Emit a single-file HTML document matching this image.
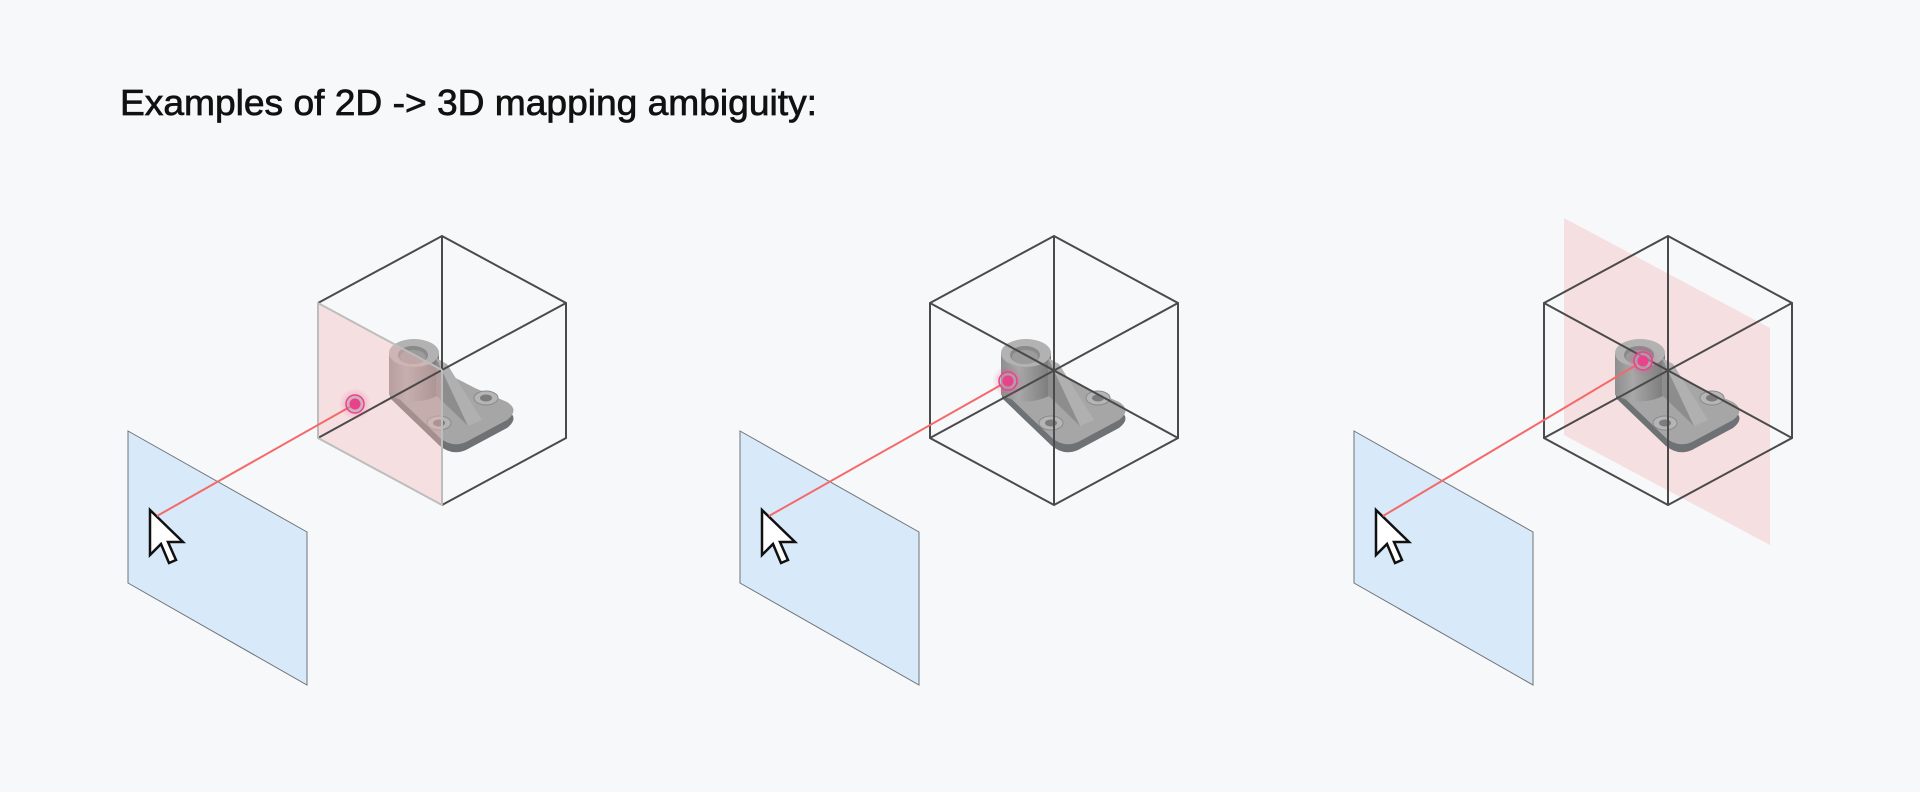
<!DOCTYPE html>
<html><head><meta charset="utf-8"><style>
html,body{margin:0;padding:0;background:#f7f8fa;}
svg{display:block}
</style></head><body>
<svg width="1920" height="792" viewBox="0 0 1920 792" xmlns="http://www.w3.org/2000/svg">
<defs>
<linearGradient id="cyl" x1="0" x2="1" y1="0" y2="0">
<stop offset="0" stop-color="#8e8e8e"/><stop offset="0.35" stop-color="#a8a8a8"/><stop offset="1" stop-color="#7a7a7a"/>
</linearGradient>
<radialGradient id="glow"><stop offset="0" stop-color="#e8428c" stop-opacity="0.5"/><stop offset="1" stop-color="#e8428c" stop-opacity="0"/></radialGradient>
<path id="plate" d="M390,390 L440,438 Q452,448 466,442 L507,420 Q520,410 507,402 L475,388 L440,370 L390,385 Z"/>
<g id="part">
  <use href="#plate" transform="translate(0,8)" fill="#6f7275"/>
  <path d="M390,390 L390,398 L440,446 L440,438 Z" fill="#6f7275"/>
  <use href="#plate" fill="#a6a6a6"/>
  <ellipse cx="486" cy="398" rx="12" ry="7" fill="#b5b5b5" stroke="#8a8a8a"/>
  <ellipse cx="486" cy="398" rx="6" ry="3.5" fill="#7c7c7c"/>
  <ellipse cx="439" cy="423" rx="12" ry="7" fill="#b5b5b5" stroke="#8a8a8a"/>
  <ellipse cx="439" cy="423" rx="6" ry="3.5" fill="#7c7c7c"/>
  <path d="M389,353 L389,395 Q414,408 439,395 L439,353 Z" fill="url(#cyl)"/>
  <path d="M436,358 L447,364 L482,420 L468,426 Z" fill="#b0b0b0"/>
  <path d="M436,358 L436,395 L468,426 Z" fill="#8d8d8d"/>
  <ellipse cx="414" cy="353" rx="25" ry="14" fill="#b2b2b2"/>
  <ellipse cx="413" cy="355" rx="15" ry="9" fill="#8a8a8a"/>
  <ellipse cx="413" cy="357" rx="13" ry="7" fill="#9c9c9c"/>
</g>
<g id="blue">
  <polygon points="128,431 307,532 307,685 128,583" fill="#d8eaf9" stroke="#6f7378" stroke-width="1"/>
  <path d="M150,510 L150,555 L161,544 L169,563 L176,560 L168,542 L183,542 Z" fill="#fff" stroke="#111" stroke-width="2.5" stroke-linejoin="miter"/>
</g>
</defs>

<text x="120" y="115" font-family="Liberation Sans, sans-serif" font-size="36" fill="#111" stroke="#111" stroke-width="0.7" textLength="697" lengthAdjust="spacingAndGlyphs">Examples of 2D -&gt; 3D mapping ambiguity:</text>

<!-- Panel 1 -->
<g>
  <use href="#part"/>
  <polygon points="318,303 442,370 442,505 318,438" fill="#f4b8b8" fill-opacity="0.4"/>
  <g stroke="#4a4a4a" stroke-width="2" fill="none">
    <polyline points="318,303 442,236 566,303 566,438 442,505"/>
    <line x1="442" y1="236" x2="442" y2="370"/>
    <line x1="442" y1="370" x2="566" y2="303"/>
    <line x1="442" y1="370" x2="318" y2="438"/>
  </g>
  <g stroke="#bdbdbd" stroke-width="2" fill="none">
    <polyline points="318,303 318,438 442,505"/>
    <line x1="318" y1="303" x2="442" y2="370"/>
    <line x1="442" y1="370" x2="442" y2="505"/>
  </g>
  <use href="#blue"/>
  <line x1="157" y1="516" x2="355" y2="404" stroke="#f46a6a" stroke-width="2"/>
  <circle cx="355" cy="404" r="16" fill="url(#glow)"/>
  <circle cx="355" cy="404" r="9" fill="#b0b0b0" fill-opacity="0.5" stroke="#e8428c" stroke-width="1.5"/>
  <circle cx="355" cy="404" r="5.5" fill="#e8428c"/>
</g>

<!-- Panel 2 -->
<g transform="translate(612,0)">
  <use href="#part"/>
  <g stroke="#4a4a4a" stroke-width="2" fill="none">
    <polygon points="318,303 442,236 566,303 566,438 442,505 318,438"/>
    <line x1="442" y1="236" x2="442" y2="505"/>
    <line x1="318" y1="303" x2="566" y2="438"/>
    <line x1="566" y1="303" x2="318" y2="438"/>
  </g>
  <use href="#blue"/>
  <line x1="157" y1="516" x2="396" y2="381" stroke="#f46a6a" stroke-width="2"/>
  <circle cx="396" cy="381" r="16" fill="url(#glow)"/>
  <circle cx="396" cy="381" r="9" fill="#b0b0b0" fill-opacity="0.5" stroke="#e8428c" stroke-width="1.5"/>
  <circle cx="396" cy="381" r="5.5" fill="#e8428c"/>
</g>

<!-- Panel 3 -->
<g transform="translate(1226,0)">
  <polygon points="338,218 544,328 544,545 338,435" fill="#f4b8b8" fill-opacity="0.4"/>
  <use href="#part"/>
  <g stroke="#4a4a4a" stroke-width="2" fill="none">
    <polygon points="318,303 442,236 566,303 566,438 442,505 318,438"/>
    <line x1="442" y1="236" x2="442" y2="505"/>
    <line x1="318" y1="303" x2="566" y2="438"/>
    <line x1="566" y1="303" x2="318" y2="438"/>
  </g>
  <use href="#blue"/>
  <line x1="157" y1="516" x2="417" y2="361" stroke="#f46a6a" stroke-width="2"/>
  <circle cx="417" cy="361" r="16" fill="url(#glow)"/>
  <circle cx="417" cy="361" r="9" fill="#b0b0b0" fill-opacity="0.5" stroke="#e8428c" stroke-width="1.5"/>
  <circle cx="417" cy="361" r="5.5" fill="#e8428c"/>
</g>
</svg>
</body></html>
